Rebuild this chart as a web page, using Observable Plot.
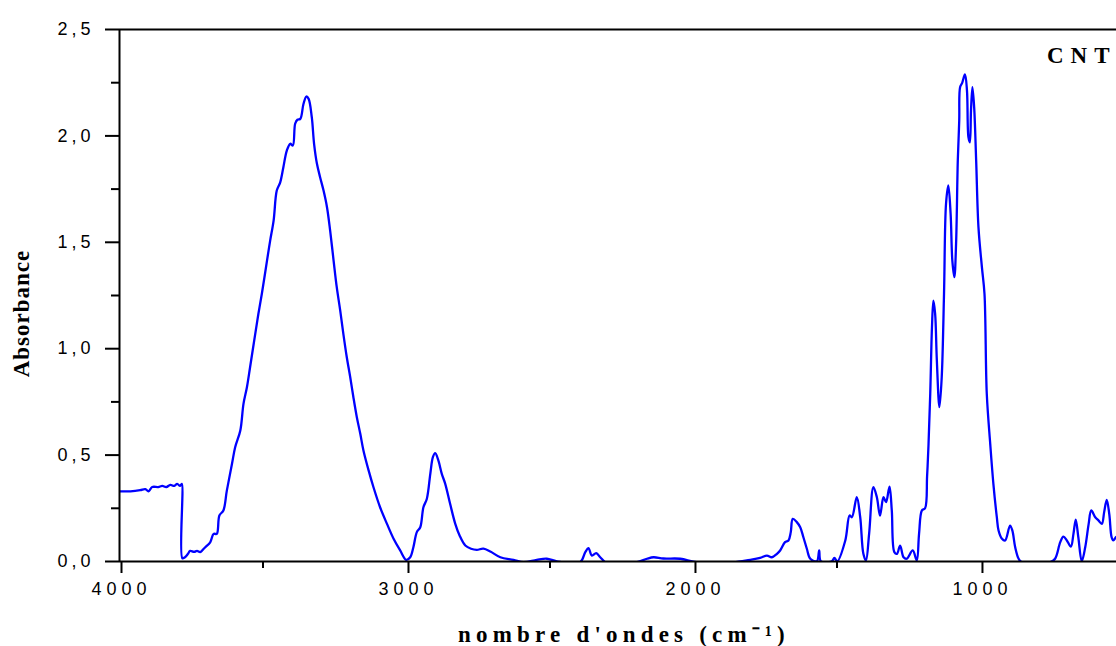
<!DOCTYPE html>
<html><head><meta charset="utf-8">
<script src="https://cdn.jsdelivr.net/npm/d3@7"></script>
<script src="https://cdn.jsdelivr.net/npm/@observablehq/plot@0.6"></script>
<style>
html,body{margin:0;padding:0;background:#fff;}
#chart svg{display:block;}
g[aria-label="x-axis tick label"] text{font-family:"Liberation Sans",Arial,sans-serif;font-size:18px;letter-spacing:5px;}
g[aria-label="y-axis tick label"] text{font-family:"Liberation Sans",Arial,sans-serif;font-size:18px;letter-spacing:4px;}
g[aria-description="x-title"] text{letter-spacing:5.2px;}
g[aria-description="y-title"] text{letter-spacing:1px;}
g[aria-description="series-label"] text{letter-spacing:7px;}
</style>
</head><body><div id="chart"></div>
<script>
const wavenumber = [4000,3962,3928,3910,3899,3886,3865,3851,3837,3823,3809,3799,3789,3783,3781,3772,3762,3754,3740,3730,3719,3710,3701,3684,3672,3661,3652,3638,3626,3608,3597,3579,3568,3556,3545,3527,3516,3504,3486,3475,3463,3452,3440,3429,3417,3405,3396,3388,3380,3370,3359,3349,3341,3330,3322,3312,3301,3289,3277,3266,3254,3243,3231,3220,3208,3196,3185,3173,3161,3150,3132,3115,3092,3068,3045,3022,3001,2987,2976,2964,2952,2941,2929,2917,2908,2900,2889,2877,2865,2848,2830,2815,2795,2775,2755,2732,2708,2673,2627,2592,2546,2511,2476,2395,2377,2366,2354,2339,2325,2302,2255,2197,2162,2139,2105,2046,2000,1953,1907,1872,1837,1802,1768,1744,1727,1710,1698,1681,1669,1661,1654,1640,1628,1617,1605,1593,1570,1562,1556,1518,1509,1499,1471,1456,1448,1431,1419,1408,1399,1388,1373,1361,1350,1338,1329,1317,1309,1300,1291,1280,1268,1257,1236,1222,1214,1204,1193,1186,1181,1175,1169,1164,1158,1152,1143,1135,1127,1120,1112,1104,1098,1091,1085,1079,1074,1071,1064,1054,1047,1042,1037,1033,1028,1022,1015,1007,995,986,978,966,955,943,937,925,914,897,889,879,867,856,757,740,722,711,699,685,676,668,659,647,635,623,614,600,589,577,569,560,551,543,537,528,520];
const absorbance = [0.33,0.33,0.335,0.34,0.33,0.35,0.35,0.355,0.35,0.36,0.355,0.365,0.355,0.365,0.015,0.02,0.035,0.05,0.045,0.05,0.044,0.055,0.067,0.09,0.13,0.13,0.216,0.24,0.333,0.459,0.537,0.616,0.741,0.819,0.913,1.07,1.164,1.258,1.414,1.508,1.602,1.743,1.782,1.853,1.931,1.963,1.955,2.057,2.076,2.08,2.15,2.185,2.174,2.088,1.963,1.869,1.806,1.743,1.665,1.555,1.414,1.289,1.18,1.07,0.96,0.866,0.772,0.678,0.6,0.522,0.428,0.349,0.255,0.177,0.107,0.052,0.008,0.02,0.067,0.138,0.161,0.255,0.295,0.412,0.49,0.509,0.475,0.412,0.365,0.271,0.177,0.122,0.075,0.06,0.055,0.06,0.047,0.02,0.008,-0.003,0.008,0.013,0.001,-0.003,0.044,0.063,0.028,0.039,0.02,-0.008,-0.008,-0.003,0.013,0.02,0.014,0.013,-0.001,-0.008,-0.014,-0.008,0.001,0.008,0.017,0.028,0.02,0.035,0.052,0.091,0.099,0.138,0.2,0.185,0.161,0.114,0.06,0.013,0.001,0.052,0.001,0.001,0.017,0.001,0.099,0.216,0.208,0.302,0.208,0.036,0.005,0.13,0.349,0.302,0.216,0.302,0.279,0.352,0.24,0.044,0.036,0.075,0.02,0.013,0.052,0.005,0.13,0.24,0.25,0.4,0.55,0.789,1.101,1.226,1.165,0.945,0.725,0.866,1.258,1.681,1.767,1.634,1.414,1.336,1.493,1.884,2.072,2.229,2.248,2.289,2.213,1.994,1.97,2.119,2.229,2.135,1.884,1.571,1.383,1.258,0.788,0.553,0.365,0.208,0.146,0.107,0.099,0.169,0.146,0.067,0.013,-0.003,-0.003,0.013,0.091,0.117,0.099,0.07,0.13,0.197,0.114,0.001,0.067,0.177,0.24,0.208,0.193,0.177,0.232,0.29,0.221,0.114,0.099,0.114,0.12];
const yTicks = [0, 0.5, 1, 1.5, 2, 2.5];
const yMinorTicks = [0.25, 0.75, 1.25, 1.75, 2.25];
const xTicks = [4000, 3000, 2000, 1000];
const xMinorTicks = [3500, 2500, 1500];
const seriesLabel = "CNT";
const xTitle = "nombre d'ondes (cm\u207B\u00B9)";
const yTitle = "Absorbance";

const data = wavenumber.map((w, i) => ({w, a: absorbance[i]}));
const fmtY = d => d.toFixed(1).replace(".", ",");
const serif = "'Liberation Serif', 'Times New Roman', serif";

const chart = Plot.plot({
  width: 1116, height: 646,
  marginLeft: 119, marginRight: 0, marginTop: 29, marginBottom: 85,
  style: {background: "#fff", color: "#000", overflow: "visible"},
  x: {domain: [4000, 526], label: null},
  y: {domain: [0, 2.5], label: null},
  marks: [
    Plot.line(data, {x: "w", y: "a", stroke: "#0000ff", strokeWidth: 2.3, curve: "catmull-rom", clip: true}),
    Plot.ruleY([0, 2.5], {stroke: "#000", strokeWidth: 2}),
    Plot.ruleX([4000], {stroke: "#000", strokeWidth: 2}),
    Plot.axisY(yTicks, {tickSize: 14, tickPadding: 11, tickFormat: fmtY, strokeWidth: 2, label: null}),
    Plot.axisY(yMinorTicks, {tickSize: 8, tickFormat: () => "", strokeWidth: 2, label: null}),
    Plot.axisX(xTicks, {tickSize: 12, tickPadding: 9, tickFormat: d => String(d), strokeWidth: 2, label: null, dx: 2}),
    Plot.axisX(xMinorTicks, {tickSize: 7, tickFormat: () => "", strokeWidth: 2, label: null}),
    Plot.text([xTitle], {frameAnchor: "bottom", textAnchor: "middle", lineAnchor: "middle", dy: 73, dx: 6, fontFamily: serif, fontWeight: "bold", fontSize: 23, ariaDescription: "x-title"}),
    Plot.text([yTitle], {frameAnchor: "left", textAnchor: "middle", lineAnchor: "middle", rotate: -90, dx: -98, dy: 18, fontFamily: serif, fontWeight: "bold", fontSize: 23, ariaDescription: "y-title"}),
    Plot.text([seriesLabel], {frameAnchor: "top-right", textAnchor: "end", lineAnchor: "middle", dx: 0, dy: 26, fontFamily: serif, fontWeight: "bold", fontSize: 23, ariaDescription: "series-label"})
  ]
});
document.getElementById("chart").appendChild(chart);
</script>
</body></html>
